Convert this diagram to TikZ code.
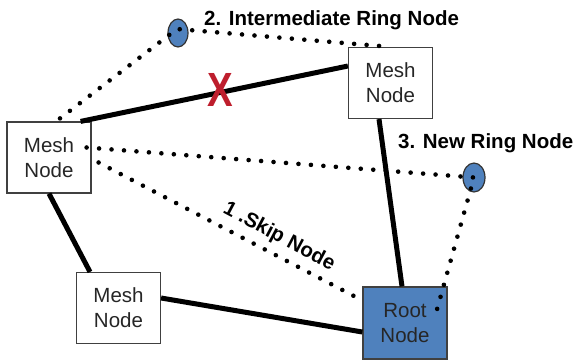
\documentclass[tikz,border=0pt]{standalone}
\usepackage{fontspec}
\setmainfont{Liberation Sans}
\usetikzlibrary{shapes.geometric}
\definecolor{rootBlue}{RGB}{79,129,189}
\definecolor{cutRed}{RGB}{190,30,45}

\begin{document}
\begin{tikzpicture}[x=1pt,y=-1pt,
        meshbox/.style={rectangle,draw=black!75,line width=1.2pt,fill=white,
                  minimum width=84pt,minimum height=71pt,inner sep=0pt,
                  align=center,text=black!85,font=\fontsize{20.5}{25}\selectfont},
        rootbox/.style={meshbox,fill=rootBlue,minimum height=72pt},
        ringnode/.style={ellipse,draw=black!80,line width=1.2pt,fill=rootBlue,
                  minimum width=20pt,minimum height=28pt,inner sep=0pt},
        link/.style={line width=5pt},
        hop/.style={line width=4.6pt,line cap=round,dash pattern=on 0pt off 12.5pt},
        lbl/.style={font=\bfseries\fontsize{20.5}{24}\selectfont,inner sep=0pt}]
        \useasboundingbox (0,0) rectangle (574,360);
        % mesh boxes and the root
        \node[meshbox] (mL) at (49,157.5) {Mesh\\Node};
        \node[meshbox] (mT) at (390.5,83) {Mesh\\Node};
        \node[meshbox] (mB) at (118.5,308) {Mesh\\Node};
        \node[rootbox] (root) at (405,323) {Root\\Node};
        % ring nodes
        \node[ringnode] (ring1) at (178,33) {};
        \node[ringnode,minimum width=22pt,minimum height=29pt] (ring2) at (474,177.5) {};
        % wired links
        \draw[link] ([shift={(-11,0)}]mL.north east) -- ([shift={(0,-17)}]mT.west);
        \draw[link] (mL.south) -- ([shift={(-28.5,0)}]mB.north);
        \draw[link] ([shift={(0,-10)}]mB.east) -- ([shift={(0,9)}]root.west);
        \draw[link] ([shift={(-11.5,0)}]mT.south) -- ([shift={(-3,0)}]root.north);
        % ring hops
        \draw[hop] ([shift={(11,-3)}]mL.north) -- ([shift={(-1,-4)}]ring1.center) -- (mT.north);
        \draw[hop] ([shift={(-5,-10)}]mL.east) -- (ring2.center)
          -- ([shift={(-12,28)}]root.north east);
        \draw[hop] ([shift={(7,5)}]mL.east) -- ([shift={(-2,13)}]root.north west);
        % labels
        \node[lbl,anchor=base west] (l2) at (204,25) {2. Intermediate Ring Node};
        \node[lbl,anchor=base west] (l3) at (398,148) {3. New Ring Node};
        \node[lbl,rotate=-28] (l1) at (279,237) {1 .Skip Node};
        \node[text=cutRed,font=\bfseries\fontsize{48}{48}\selectfont,inner sep=0pt,
              xscale=0.8,transform shape] (cut) at (220,90) {X};
      \end{tikzpicture}
\end{document}
